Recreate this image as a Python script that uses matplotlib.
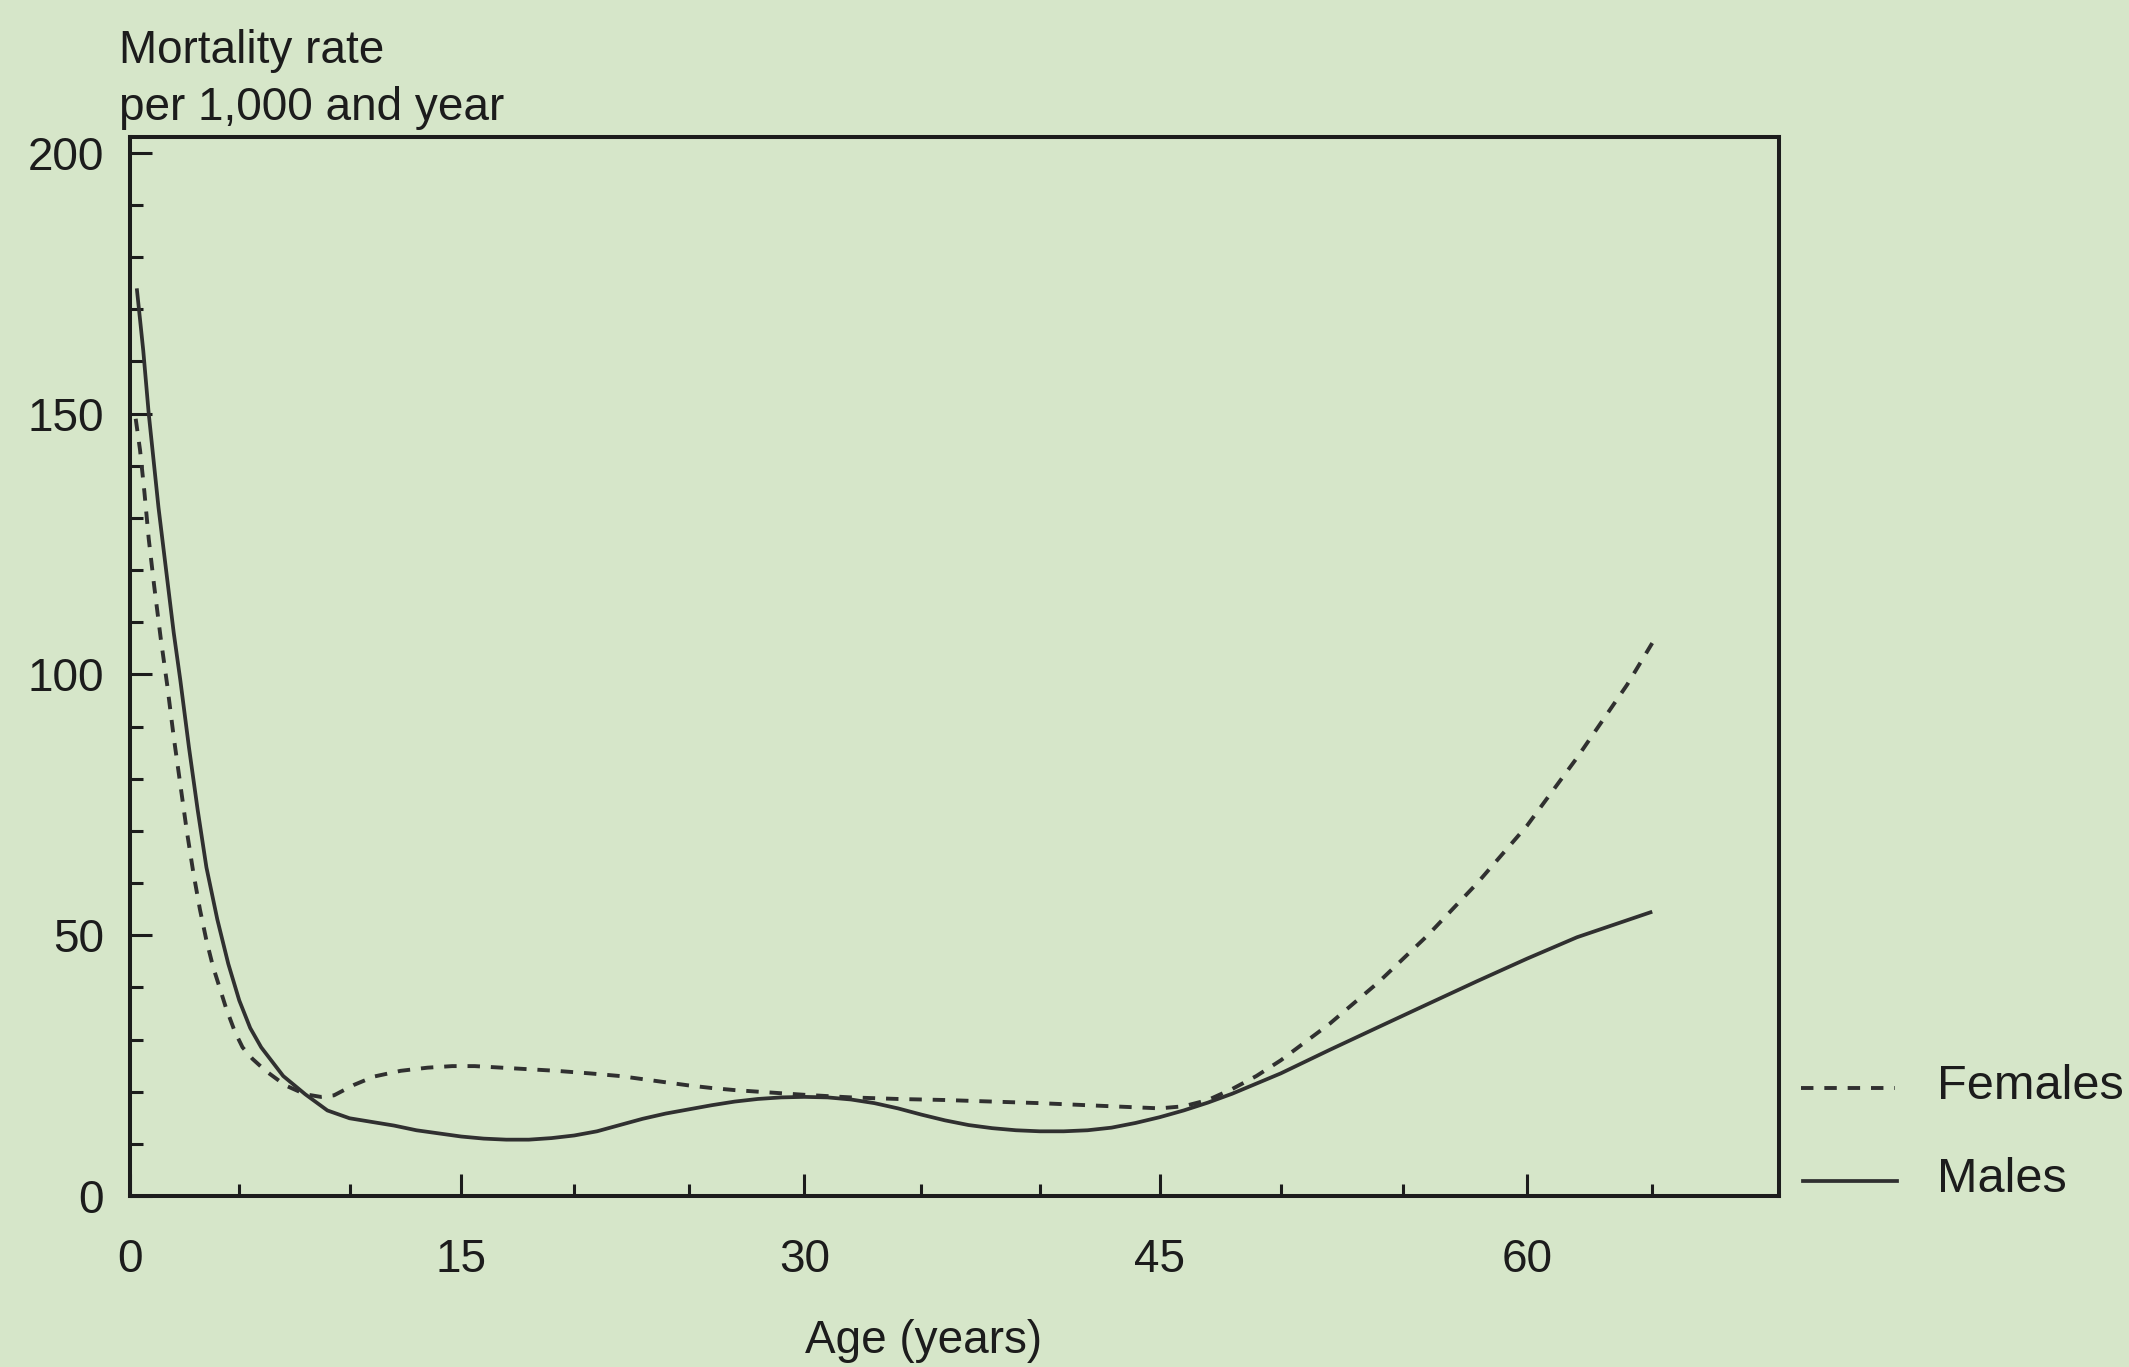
import numpy as np
import matplotlib
matplotlib.use("Agg")
import matplotlib.pyplot as plt
from matplotlib.lines import Line2D
from matplotlib.ticker import FixedLocator

# Age in years, and mortality rate per 1,000 and year
male_ages = [0.3, 0.6, 0.85, 1.3, 1.65, 2.0, 2.3, 2.7, 3.1, 3.5, 4.0, 4.5, 5.0,
             5.5, 6, 7, 8, 9, 10, 11, 12, 13, 14, 15, 16, 17, 18, 19, 20, 21,
             22, 23, 24, 25, 26, 27, 28, 29, 30, 31, 32, 33, 34, 35, 36, 37, 38,
             39, 40, 41, 42, 43, 44, 45, 46, 47, 48, 50, 52, 54, 56, 58, 60, 62,
             65]
males = [174, 162, 150, 132, 120, 108, 99, 86, 74, 63, 53, 44.5, 37.5, 32.2,
         28.5, 23, 19.5, 16.4, 14.9, 14.2, 13.5, 12.6, 12, 11.4, 11, 10.8, 10.8,
         11.1, 11.6, 12.4, 13.6, 14.8, 15.8, 16.6, 17.4, 18.1, 18.6, 18.9, 19,
         18.9, 18.5, 17.8, 16.8, 15.6, 14.5, 13.6, 13, 12.6, 12.4, 12.4, 12.6,
         13.1, 14, 15.1, 16.4, 17.9, 19.6, 23.5, 28, 32.4, 36.8, 41.2, 45.5, 49.6,
         54.5]

female_ages = [0.25, 0.45, 0.65, 0.85, 1.1, 1.4, 1.7, 2.0, 2.3, 2.6, 2.9, 3.2, 3.5,
               3.8, 4.1, 4.4, 4.8, 5.15, 5.6, 6.2, 7.1, 8.0, 8.7, 9.3, 10.2, 11.1,
               12.3, 13.5, 14.6, 15.6, 16.8, 18, 19.2, 20.7, 22, 23, 24, 25, 26,
               27, 28, 29, 30, 32, 34, 36, 38, 40, 42, 44, 45, 46, 47, 48, 49, 50,
               52, 54, 56, 58, 60, 62, 64, 65]
females = [149, 143, 135, 126, 117, 107, 98, 88, 79, 70, 62, 55, 49, 44, 40, 36,
           31.5, 28.5, 26.3, 24, 21.2, 19.5, 19, 19.3, 21.3, 22.9, 24, 24.6, 24.9,
           24.9, 24.6, 24.3, 24, 23.5, 23, 22.4, 21.8, 21.2, 20.7, 20.3, 20, 19.7,
           19.4, 18.9, 18.6, 18.4, 18.1, 17.8, 17.4, 17, 16.8, 17.2, 18.4, 20.5,
           23, 26, 33, 41, 50, 60, 71, 84, 98, 106]

x_major = [0, 15, 30, 45, 60]
x_minor = [5, 10, 20, 25, 35, 40, 50, 55, 65]
y_major = [0, 50, 100, 150, 200]
y_minor = [10, 20, 30, 40, 60, 70, 80, 90, 110, 120, 130, 140, 160, 170, 180, 190]

BG = "#d6e6c9"
INK = "#1c1c1c"
LINE = "#303030"
FONT = "Liberation Sans"
FS = 33
FS_KEY = 35

plt.rcParams["font.family"] = [FONT, "DejaVu Sans"]

# The age axis of the printed figure widens slightly toward the right
K = 0.00125


def fwd(a):
    a = np.asarray(a, dtype=float)
    return a + K * a * a


def inv(u):
    u = np.asarray(u, dtype=float)
    return (-1.0 + np.sqrt(np.maximum(1.0 + 4.0 * K * u, 0.0))) / (2.0 * K)


fig = plt.figure(figsize=(21.29, 13.67), dpi=100, facecolor=BG)
ax = fig.add_axes([0.0612, 0.1251, 0.7743, 0.7746])
ax.set_facecolor(BG)
ax.set_xscale("function", functions=(fwd, inv))

ax.plot(male_ages, males, color=LINE, lw=2.7, solid_capstyle="butt",
        solid_joinstyle="round")
ax.plot(female_ages, females, color=LINE, lw=2.8, dashes=(3.2, 2.8))

ax.set_xlim(0, 70)
ax.set_ylim(0, 203)

for s in ax.spines.values():
    s.set_linewidth(2.9)
    s.set_color(INK)

ax.xaxis.set_major_locator(FixedLocator(x_major))
ax.xaxis.set_minor_locator(FixedLocator(x_minor))
ax.yaxis.set_major_locator(FixedLocator(y_major))
ax.yaxis.set_minor_locator(FixedLocator(y_minor))

ax.tick_params(which="both", direction="in", color=INK, labelcolor=INK,
               labelsize=FS)
ax.tick_params(which="major", length=16, width=2.2)
ax.tick_params(which="minor", length=9, width=2.2)
ax.tick_params(axis="x", which="major", pad=30)
ax.tick_params(axis="y", which="major", pad=19)
ax.set_xticklabels([str(v) for v in x_major])
ax.set_yticklabels([str(v) for v in y_major])

fig.text(0.056, 0.963, "Mortality rate", fontsize=FS, color=INK,
         ha="left", va="center")
fig.text(0.056, 0.921, "per 1,000 and year", fontsize=FS, color=INK,
         ha="left", va="center")
fig.text(0.434, 0.019, "Age (years)", fontsize=FS, color=INK,
         ha="center", va="center")

# Key to the right of the frame
fig.add_artist(Line2D([0.846, 0.890], [0.204, 0.204], transform=fig.transFigure,
                      color=LINE, lw=2.8, dashes=(3.2, 2.8)))
fig.add_artist(Line2D([0.847, 0.891], [0.136, 0.136], transform=fig.transFigure,
                      color=LINE, lw=2.7))
fig.text(0.910, 0.205, "Females", fontsize=FS_KEY, color=INK,
         ha="left", va="center")
fig.text(0.910, 0.137, "Males", fontsize=FS_KEY, color=INK,
         ha="left", va="center")

fig.savefig("out.png", dpi=100, facecolor=BG)
